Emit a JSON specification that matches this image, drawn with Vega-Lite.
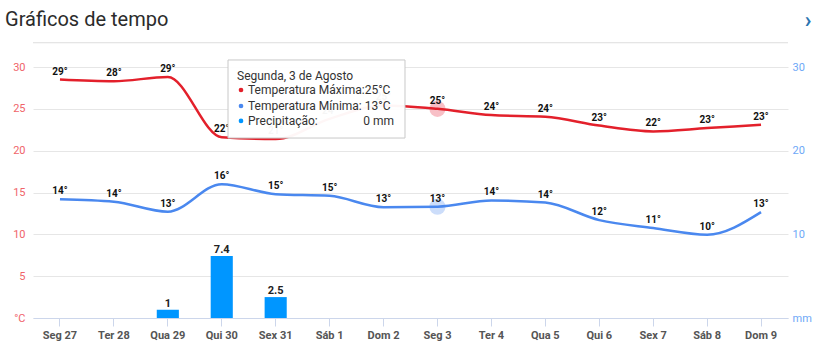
{
  "$schema": "https://vega.github.io/schema/vega-lite/v6.json",
  "width": 755,
  "height": 251,
  "autosize": {"type": "none"},
  "padding": {"left": 33, "top": 67, "right": 49, "bottom": 37},
  "background": "white",
  "datasets": {
    "weather": [
      {"day": "Seg 27", "tmax": 28.5, "tmin": 14.2, "precip": 0},
      {"day": "Ter 28", "tmax": 28.3, "tmin": 13.9, "precip": 0},
      {"day": "Qua 29", "tmax": 28.8, "tmin": 12.7, "precip": 1},
      {"day": "Qui 30", "tmax": 21.6, "tmin": 16.0, "precip": 7.4},
      {"day": "Sex 31", "tmax": 21.4, "tmin": 14.8, "precip": 2.5},
      {"day": "Sáb 1", "tmax": 23.8, "tmin": 14.6, "precip": 0},
      {"day": "Dom 2", "tmax": 25.4, "tmin": 13.25, "precip": 0},
      {"day": "Seg 3", "tmax": 25.0, "tmin": 13.3, "precip": 0},
      {"day": "Ter 4", "tmax": 24.25, "tmin": 14.05, "precip": 0},
      {"day": "Qua 5", "tmax": 24.05, "tmin": 13.8, "precip": 0},
      {"day": "Qui 6", "tmax": 23.0, "tmin": 11.7, "precip": 0},
      {"day": "Sex 7", "tmax": 22.3, "tmin": 10.75, "precip": 0},
      {"day": "Sáb 8", "tmax": 22.7, "tmin": 9.96, "precip": 0},
      {"day": "Dom 9", "tmax": 23.1, "tmin": 12.65, "precip": 0}
    ],
    "one": [{"k": 1}]
  },
  "data": {"name": "weather"},
  "encoding": {
    "x": {
      "field": "day",
      "type": "ordinal",
      "sort": null,
      "scale": {
        "domain": ["Seg 27", "Ter 28", "Qua 29", "Qui 30", "Sex 31", "Sáb 1", "Dom 2", "Seg 3", "Ter 4", "Qua 5", "Qui 6", "Sex 7", "Sáb 8", "Dom 9"],
        "paddingInner": 0,
        "paddingOuter": 0
      },
      "axis": {
        "title": null,
        "labelAngle": 0,
        "labelFont": "Roboto",
        "labelFontSize": 11,
        "labelFontWeight": "bold",
        "labelColor": "#555555",
        "domainColor": "#ccd6eb",
        "tickColor": "#ccd6eb",
        "tickSize": 8,
        "labelPadding": 3,
        "grid": false
      }
    }
  },
  "layer": [
    {
      "data": {"name": "one"},
      "mark": {"type": "rule", "color": "#dddddd", "strokeWidth": 1},
      "encoding": {"x": null, "y": {"datum": 32.9, "axis": null}}
    },
    {
      "data": {"name": "one"},
      "mark": {"type": "text", "font": "Roboto", "fontSize": 20, "fontWeight": "normal", "color": "#2b2b2b", "align": "left", "baseline": "middle", "text": "Gráficos de tempo"},
      "encoding": {"x": {"datum": "Seg 27", "bandPosition": -0.519}, "y": {"datum": 35.6, "axis": null}}
    },
    {
      "data": {"name": "one"},
      "mark": {"type": "text", "font": "Roboto", "fontSize": 22, "fontWeight": "bold", "color": "#2a74b0", "align": "center", "baseline": "middle", "text": "›"},
      "encoding": {"x": {"datum": "Dom 9", "bandPosition": 1.37}, "y": {"datum": 35.6, "axis": null}}
    },
    {
      "mark": {"type": "bar", "color": "#0096ff", "width": {"band": 0.41}},
      "encoding": {
        "y": {
          "field": "precip",
          "type": "quantitative",
          "scale": {"domain": [0, 30], "nice": false, "zero": true},
          "axis": {
            "orient": "left",
            "title": null,
            "values": [0, 5, 10, 15, 20, 25, 30],
            "labelExpr": "datum.value == 0 ? '°C' : datum.label",
            "labelColor": "#f0646a",
            "labelFont": "Roboto",
            "labelFontSize": 11,
            "domain": false,
            "ticks": false,
            "labelPadding": 8,
            "grid": true,
            "gridColor": "#e6e6e6"
          }
        }
      }
    },
    {
      "transform": [{"filter": "datum.precip > 0"}],
      "mark": {"type": "text", "font": "Roboto", "fontSize": 11, "fontWeight": "bold", "color": "#222222", "baseline": "bottom", "dy": -1},
      "encoding": {
        "y": {"field": "precip", "type": "quantitative", "axis": null},
        "text": {"field": "precip", "type": "quantitative"}
      }
    },
    {
      "transform": [{"filter": "datum.day == 'Seg 3'"}],
      "mark": {"type": "point", "shape": "circle", "filled": true, "size": 260, "color": "#f07080", "opacity": 0.45},
      "encoding": {"y": {"field": "tmax", "type": "quantitative", "axis": null}}
    },
    {
      "transform": [{"filter": "datum.day == 'Seg 3'"}],
      "mark": {"type": "point", "shape": "circle", "filled": true, "size": 260, "color": "#8fb3f5", "opacity": 0.45},
      "encoding": {"y": {"field": "tmin", "type": "quantitative", "axis": null}}
    },
    {
      "mark": {"type": "line", "color": "#e3202b", "strokeWidth": 2.5, "interpolate": "monotone"},
      "encoding": {"y": {"field": "tmax", "type": "quantitative", "axis": null}}
    },
    {
      "mark": {"type": "line", "color": "#4a88ef", "strokeWidth": 2.5, "interpolate": "monotone"},
      "encoding": {
        "y": {
          "field": "tmin",
          "type": "quantitative",
          "axis": {
            "orient": "right",
            "title": null,
            "values": [0, 10, 20, 30],
            "labelExpr": "datum.value == 0 ? 'mm' : datum.label",
            "labelColor": "#6ea8f7",
            "labelFont": "Roboto",
            "labelFontSize": 11,
            "domain": false,
            "ticks": false,
            "labelPadding": 4,
            "grid": false
          }
        }
      }
    },
    {
      "transform": [{"calculate": "format(datum.tmax, '.0f') + '°'", "as": "lab"}],
      "mark": {"type": "text", "font": "Roboto", "fontSize": 10, "fontWeight": "bold", "color": "#111111", "baseline": "bottom", "dy": -3},
      "encoding": {"y": {"field": "tmax", "type": "quantitative", "axis": null}, "text": {"field": "lab"}}
    },
    {
      "transform": [{"calculate": "format(datum.tmin, '.0f') + '°'", "as": "lab"}],
      "mark": {"type": "text", "font": "Roboto", "fontSize": 10, "fontWeight": "bold", "color": "#111111", "baseline": "bottom", "dy": -3},
      "encoding": {"y": {"field": "tmin", "type": "quantitative", "axis": null}, "text": {"field": "lab"}}
    },
    {
      "data": {"name": "one"},
      "mark": {"type": "rect", "fill": "white", "fillOpacity": 0.96, "stroke": "#c8c8c8", "strokeWidth": 1},
      "encoding": {
        "x": {"datum": "Qui 30", "bandPosition": 0.616},
        "x2": {"datum": "Dom 2", "bandPosition": 0.898},
        "y": {"datum": 30.84, "axis": null},
        "y2": {"datum": 21.51}
      }
    },
    {
      "data": {"name": "one"},
      "mark": {"type": "text", "font": "Roboto", "fontSize": 12, "fontWeight": "normal", "color": "#333333", "align": "left", "baseline": "middle", "text": "Segunda, 3 de Agosto"},
      "encoding": {"x": {"datum": "Qui 30", "bandPosition": 0.783}, "y": {"datum": 28.92, "axis": null}}
    },
    {
      "data": {"name": "one"},
      "mark": {"type": "text", "font": "Roboto", "fontSize": 12, "fontWeight": "normal", "color": "#333333", "align": "left", "baseline": "middle", "text": "Temperatura Máxima:25°C"},
      "encoding": {"x": {"datum": "Qui 30", "bandPosition": 0.987}, "y": {"datum": 27.25, "axis": null}}
    },
    {
      "data": {"name": "one"},
      "mark": {"type": "text", "font": "Roboto", "fontSize": 12, "fontWeight": "normal", "color": "#333333", "align": "left", "baseline": "middle", "text": "Temperatura Mínima: 13°C"},
      "encoding": {"x": {"datum": "Qui 30", "bandPosition": 0.987}, "y": {"datum": 25.34, "axis": null}}
    },
    {
      "data": {"name": "one"},
      "mark": {"type": "text", "font": "Roboto", "fontSize": 12, "fontWeight": "normal", "color": "#333333", "align": "left", "baseline": "middle", "text": "Precipitação:"},
      "encoding": {"x": {"datum": "Qui 30", "bandPosition": 0.987}, "y": {"datum": 23.55, "axis": null}}
    },
    {
      "data": {"name": "one"},
      "mark": {"type": "text", "font": "Roboto", "fontSize": 12, "fontWeight": "normal", "color": "#333333", "align": "right", "baseline": "middle", "text": "0 mm"},
      "encoding": {"x": {"datum": "Dom 2", "bandPosition": 0.694}, "y": {"datum": 23.55, "axis": null}}
    },
    {
      "data": {"name": "one"},
      "mark": {"type": "point", "shape": "circle", "filled": true, "size": 22, "color": "#e3202b", "opacity": 1},
      "encoding": {"x": {"datum": "Qui 30", "bandPosition": 0.857}, "y": {"datum": 27.25, "axis": null}}
    },
    {
      "data": {"name": "one"},
      "mark": {"type": "point", "shape": "circle", "filled": true, "size": 22, "color": "#4a88ef", "opacity": 1},
      "encoding": {"x": {"datum": "Qui 30", "bandPosition": 0.857}, "y": {"datum": 25.34, "axis": null}}
    },
    {
      "data": {"name": "one"},
      "mark": {"type": "point", "shape": "circle", "filled": true, "size": 22, "color": "#0096ff", "opacity": 1},
      "encoding": {"x": {"datum": "Qui 30", "bandPosition": 0.857}, "y": {"datum": 23.55, "axis": null}}
    }
  ],
  "resolve": {"axis": {"y": "independent"}},
  "config": {"view": {"stroke": null}, "font": "Roboto", "axisX": {"grid": false}}
}
